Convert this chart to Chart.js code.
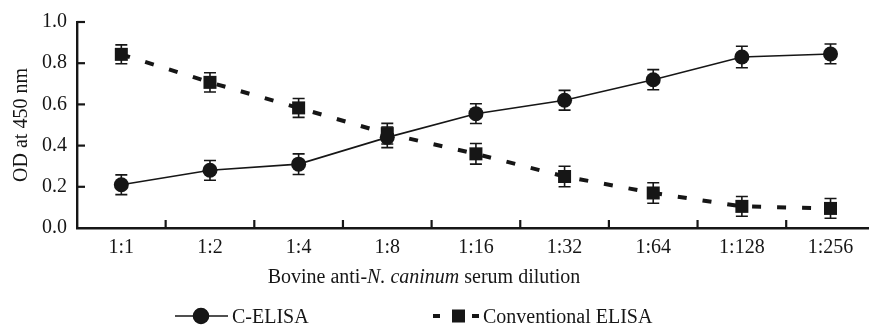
<!DOCTYPE html>
<html><head><meta charset="utf-8">
<script src="https://cdn.jsdelivr.net/npm/chart.js@4/dist/chart.umd.min.js"></script>
<style>html,body{margin:0;padding:0;background:#fff;overflow:hidden}#wrap{position:relative;width:869px;height:326px}</style>
</head><body><div id="wrap"><canvas id="c" width="869" height="326"></canvas></div>
<script>
const dilutions = ['1:1','1:2','1:4','1:8','1:16','1:32','1:64','1:128','1:256'];
const cElisa = [0.21, 0.28, 0.31, 0.44, 0.555, 0.62, 0.72, 0.83, 0.845];
const cElisaErr = [0.048, 0.048, 0.05, 0.05, 0.048, 0.048, 0.049, 0.052, 0.048];
const convElisa = [0.843, 0.707, 0.583, 0.458, 0.36, 0.25, 0.17, 0.105, 0.095];
const convElisaErr = [0.046, 0.047, 0.046, 0.05, 0.05, 0.05, 0.05, 0.048, 0.048];
const yTicks = [0, 0.2, 0.4, 0.6, 0.8, 1.0];
const seriesNames = ['C-ELISA', 'Conventional ELISA'];
const xTitleParts = [['Bovine anti-', false], ['N. caninum', true], [' serum dilution', false]];

const INK = '#161616';
const FONT = 'Liberation Serif';
const FS = 20;

const toPts = arr => arr.map((v, i) => ({x: i, y: v}));
const errs = [cElisaErr, convElisaErr];

const decor = {
  id: 'decor',
  afterLayout(chart) {
    const xs = chart.scales.x, a = chart.chartArea;
    if (a.right < chart.width) {
      a.right = chart.width; a.width = a.right - a.left;
      xs.right = chart.width; xs.width = xs.right - xs.left;
      xs.configure();
    }
  },
  beforeDatasetsDraw(chart) {
    const ctx = chart.ctx, xs = chart.scales.x, ys = chart.scales.y;
    ctx.save();
    ctx.strokeStyle = INK; ctx.lineWidth = 1.6;
    chart.data.datasets.forEach((ds, d) => {
      ds.data.forEach((p, i) => {
        const e = errs[d][i];
        const x = xs.getPixelForValue(p.x);
        const yt = ys.getPixelForValue(p.y + e), yb = ys.getPixelForValue(p.y - e);
        ctx.beginPath();
        ctx.moveTo(x, yt); ctx.lineTo(x, yb);
        ctx.moveTo(x - 6, yt); ctx.lineTo(x + 6, yt);
        ctx.moveTo(x - 6, yb); ctx.lineTo(x + 6, yb);
        ctx.stroke();
      });
    });
    ctx.restore();
  },
  afterDraw(chart) {
    const ctx = chart.ctx, xs = chart.scales.x, ys = chart.scales.y, a = chart.chartArea;
    ctx.save();
    ctx.strokeStyle = INK; ctx.lineWidth = 2.2;
    yTicks.forEach(v => {
      if (v === 0) return;
      const y = ys.getPixelForValue(v);
      ctx.beginPath(); ctx.moveTo(a.left, y); ctx.lineTo(a.left + 8, y); ctx.stroke();
    });
    for (let i = 0; i < dilutions.length - 1; i++) {
      const x = xs.getPixelForValue(i + 0.5);
      ctx.beginPath(); ctx.moveTo(x, a.bottom); ctx.lineTo(x, a.bottom - 8); ctx.stroke();
    }
    ctx.fillStyle = INK; ctx.textBaseline = 'middle';
    const fonts = xTitleParts.map(p => (p[1] ? 'italic ' : '') + FS + 'px "' + FONT + '"');
    let total = 0;
    const widths = xTitleParts.map((p, k) => { ctx.font = fonts[k]; const w = ctx.measureText(p[0]).width; total += w; return w; });
    let tx = 424 - total / 2;
    xTitleParts.forEach((p, k) => { ctx.font = fonts[k]; ctx.textAlign = 'left'; ctx.fillText(p[0], tx, 277.5); tx += widths[k]; });
    const ly = 316;
    ctx.lineWidth = 1.6;
    ctx.beginPath(); ctx.moveTo(175, ly); ctx.lineTo(228, ly); ctx.stroke();
    Chart.helpers.drawPoint(ctx, {pointStyle: 'circle', radius: 7.5, borderWidth: 1}, 201, ly);
    ctx.fillStyle = INK;
    ctx.fill();
    ctx.font = FS + 'px "' + FONT + '"';
    ctx.fillText(seriesNames[0], 232, ly + 1.5);
    ctx.lineWidth = 4;
    ctx.beginPath(); ctx.moveTo(433, ly); ctx.lineTo(440, ly); ctx.moveTo(472, ly); ctx.lineTo(479, ly); ctx.stroke();
    ctx.fillRect(452, ly - 6.5, 13, 13);
    ctx.fillText(seriesNames[1], 483, ly + 1.5);
    ctx.restore();
  }
};

new Chart(document.getElementById('c'), {
  type: 'line',
  data: {
    datasets: [
      {
        label: seriesNames[0], data: toPts(cElisa), order: 1,
        borderColor: INK, backgroundColor: INK, borderWidth: 1.6,
        pointStyle: 'circle', pointRadius: 7.5, pointBorderWidth: 0, pointBackgroundColor: INK,
        tension: 0
      },
      {
        label: seriesNames[1], data: toPts(convElisa), order: 0,
        borderColor: INK, backgroundColor: INK, borderWidth: 4, borderDash: [9, 16],
        pointStyle: 'rect', pointRadius: 9.2, pointBorderWidth: 0, pointBackgroundColor: INK,
        tension: 0
      }
    ]
  },
  options: {
    responsive: false, animation: false, devicePixelRatio: 1,
    layout: {padding: {top: 20, right: 0, left: 0, bottom: 0}},
    plugins: {legend: {display: false}, tooltip: {enabled: false}},
    scales: {
      x: {
        type: 'linear', min: -0.5, max: 8.434,
        afterBuildTicks: s => { s.ticks = dilutions.map((_, i) => ({value: i})); },
        afterFit: s => { s.height = 98; s.paddingLeft = 0; s.paddingRight = 0; },
        grid: {display: false, drawTicks: false},
        border: {display: true, color: INK, width: 2.4},
        ticks: {padding: 8, color: INK, font: {family: FONT, size: FS}, maxRotation: 0, autoSkip: false,
                callback: v => dilutions[v] ?? ''}
      },
      y: {
        min: 0, max: 1.0,
        afterBuildTicks: s => { s.ticks = yTicks.map(v => ({value: v})); },
        afterFit: s => { s.width = 77; },
        grid: {display: false, drawTicks: false},
        border: {display: true, color: INK, width: 2.4},
        ticks: {padding: 10, color: INK, font: {family: FONT, size: FS}, callback: v => v.toFixed(1)},
        title: {display: true, text: 'OD at 450 nm', color: INK, font: {family: FONT, size: FS}, padding: {top: 10, bottom: 0}}
      }
    }
  },
  plugins: [decor]
});
</script></body></html>
